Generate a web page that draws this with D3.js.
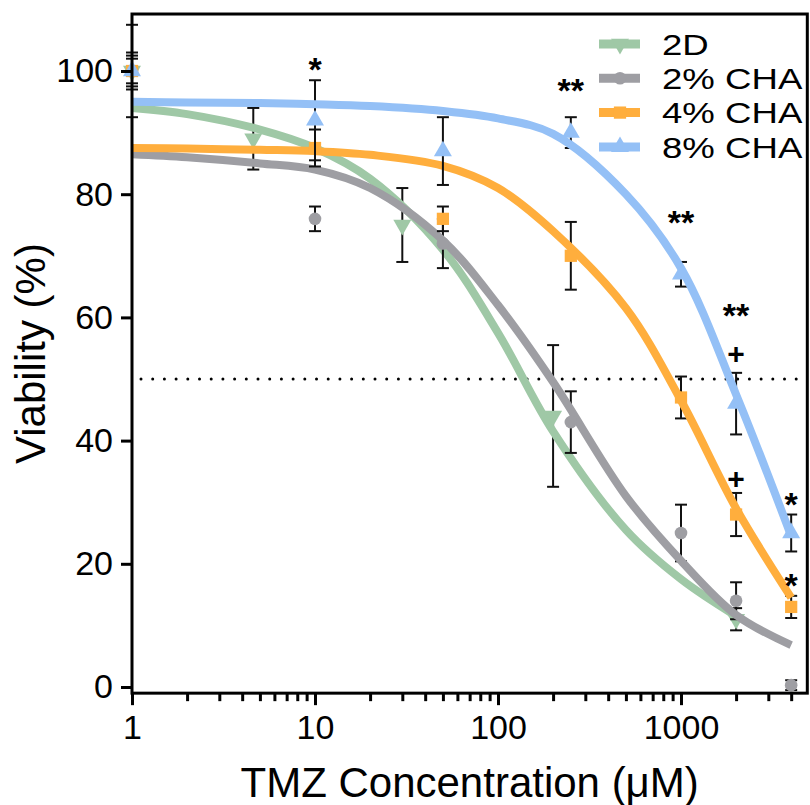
<!DOCTYPE html>
<html>
<head>
<meta charset="utf-8">
<script src="https://cdn.jsdelivr.net/npm/d3@7"></script>
<style>
  body { margin: 0; background: #fff; }
  text { font-family: "Liberation Sans", Arial, Helvetica, sans-serif; fill: #000; }
</style>
</head>
<body>
<svg></svg>
<script>
const width = 810;
const height = 805;

// measured points (TMZ uM, viability %, error)
const conc2D = [1, 4.6, 30, 200, 2000];
const via2D = [100, 89, 75, 44, 11];
const err2D = [3, 5, 6, 11.5, 1.8];

const concCHA = [1, 10, 50, 250, 1000, 2000, 4000];
const via2 = [100, 76, 72, 43, 25, 14, 0.3];
const err2 = [2, 2, 4, 5, 4.6, 3, 0.8];
const via4 = [100, 87.5, 76, 70, 47, 28, 13];
const err4 = [2.5, 3, 2, 5.5, 3.4, 3.5, 1.8];
const via8 = [100, 92, 87, 90, 67, 46, 25];
const err8 = [7.5, 6.5, 5.5, 2.5, 2, 5, 3];

// fitted curves
const fitX = [1, 2, 5, 10, 20, 50, 100, 200, 500, 1000, 2000, 4000];
const fit2D = [94, 93, 90.5, 87.5, 82.5, 71, 57.5, 41.5, 25.5, 17.5, 11.5];
const fit2 = [86.5, 86, 85, 84, 81, 72.5, 62, 49.5, 31, 20.5, 11.7, 6.8];
const fit4 = [87.5, 87.4, 87.2, 87, 86.4, 84.6, 81, 74, 61.5, 46.5, 29, 14.5];
const fit8 = [95, 94.9, 94.8, 94.6, 94.3, 93.5, 92.3, 89.8, 80, 68, 47.5, 24.5];

// significance marks
const sigX = [10, 250, 1000, 2000, 2000, 2000, 4000, 4000];
const sigY = [101.5, 98, 76.6, 61.5, 54.2, 33.9, 30.8, 17.7];
const sigText = ["*", "**", "**", "**", "+", "+", "*", "*"];

const names = ["2D", "2% CHA", "4% CHA", "8% CHA"];
const colors = ["#9fc8a6", "#9e9ea3", "#ffae3d", "#94c0f6"];

const xTicks = [1, 10, 100, 1000];
const yTicks = [0, 20, 40, 60, 80, 100];

const series = [
  { name: names[0], color: colors[0], shape: "down", xs: conc2D, ys: via2D, es: err2D, fit: fit2D },
  { name: names[1], color: colors[1], shape: "circle", xs: concCHA, ys: via2, es: err2, fit: fit2 },
  { name: names[2], color: colors[2], shape: "square", xs: concCHA, ys: via4, es: err4, fit: fit4 },
  { name: names[3], color: colors[3], shape: "up", xs: concCHA, ys: via8, es: err8, fit: fit8 }
];

const x = d3.scaleLog().domain([1, 1000]).range([132, 681]);
const y = d3.scaleLinear().domain([0, 100]).range([687, 71]);
const xMax = 4900, yMin = -1, yMax = 109.25;

const svg = d3.select('svg')
  .attr('width', width)
  .attr('height', height)

function symbolPath(shape) {
  if (shape === "circle") return d3.symbol(d3.symbolCircle, 125)();
  if (shape === "square") return d3.symbol(d3.symbolSquare, 150)();
  return d3.symbol(d3.symbolTriangle, 140)();
}

// 50% reference line
svg.append("line")
  .attr("x1", x(1.12)).attr("x2", x(xMax))
  .attr("y1", y(50)).attr("y2", y(50))
  .attr("stroke", "#000")
  .attr("stroke-width", 3)
  .attr("stroke-linecap", "round")
  .attr("stroke-dasharray", "0 11.7")

const line = d3.line()
  .x(d => x(d[0]))
  .y(d => y(d[1]))
  .curve(d3.curveCatmullRom.alpha(0.5))

series.forEach(s => {
  const g = svg.append("g")
  const pts = s.xs.map((c, i) => ({ c, v: s.ys[i], e: s.es[i] }))

  const eb = g.append("g").attr("stroke", "#111").attr("stroke-width", 2)
  pts.forEach(p => {
    eb.append("line").attr("x1", x(p.c)).attr("x2", x(p.c))
      .attr("y1", y(p.v - p.e)).attr("y2", y(p.v + p.e))
    eb.append("line").attr("x1", x(p.c) - 6).attr("x2", x(p.c) + 6)
      .attr("y1", y(p.v - p.e)).attr("y2", y(p.v - p.e))
    eb.append("line").attr("x1", x(p.c) - 6).attr("x2", x(p.c) + 6)
      .attr("y1", y(p.v + p.e)).attr("y2", y(p.v + p.e))
  })

  g.append("path")
    .datum(s.fit.map((v, i) => [fitX[i], v]))
    .attr("fill", "none")
    .attr("stroke", s.color)
    .attr("stroke-width", 8)
    .attr("d", line)

  g.selectAll(null)
    .data(pts)
    .join("path")
    .attr("d", symbolPath(s.shape))
    .attr("fill", s.color)
    .attr("transform", d => `translate(${x(d.c)},${y(d.v)})` + (s.shape === "down" ? " rotate(180)" : ""))
})

// frame
svg.append("rect")
  .attr("x", x(1)).attr("y", y(yMax))
  .attr("width", x(xMax) - x(1))
  .attr("height", y(yMin) - y(yMax))
  .attr("fill", "none")
  .attr("stroke", "#000")
  .attr("stroke-width", 3)

// axes
const yAxis = svg.append("g")
  .attr("transform", `translate(${x(1)},0)`)
  .call(d3.axisLeft(y).tickValues(yTicks).tickSize(11).tickPadding(8))
yAxis.select(".domain").remove()
yAxis.selectAll("line").attr("stroke-width", 3)
yAxis.selectAll("text").attr("font-size", 34).attr("fill", "#000")

const minor = [];
[1, 10, 100, 1000].forEach(d => { for (let k = 2; k <= 9; k++) if (d * k < xMax) minor.push(d * k) })

const xMinor = svg.append("g")
  .attr("transform", `translate(0,${y(yMin)})`)
  .call(d3.axisBottom(x).tickValues(minor).tickSize(8).tickFormat(""))
xMinor.select(".domain").remove()
xMinor.selectAll("line").attr("stroke-width", 3)

const xAxis = svg.append("g")
  .attr("transform", `translate(0,${y(yMin)})`)
  .call(d3.axisBottom(x).tickValues(xTicks).tickSize(12).tickPadding(10).tickFormat(d3.format("d")))
xAxis.select(".domain").remove()
xAxis.selectAll("line").attr("stroke-width", 3)
xAxis.selectAll("text").attr("font-size", 34).attr("fill", "#000").attr("dy", "0.71em")

svg.append("text")
  .attr("x", (x(1) + x(xMax)) / 2)
  .attr("y", 797)
  .attr("text-anchor", "middle")
  .attr("font-size", 42)
  .text("TMZ Concentration (\u03bcM)")

svg.append("text")
  .attr("transform", `translate(45,${(y(yMin) + y(yMax)) / 2}) rotate(-90)`)
  .attr("text-anchor", "middle")
  .attr("font-size", 42)
  .text("Viability (%)")

// significance marks
sigText.forEach((t, i) => {
  const fs = t === "+" ? 30 : 34
  svg.append("text")
    .attr("x", x(sigX[i]))
    .attr("y", y(sigY[i]) + (t === "+" ? 0.355 : 0.56) * fs)
    .attr("text-anchor", "middle")
    .attr("font-size", fs)
    .attr("font-weight", "bold")
    .text(t)
})

// legend
const legend = svg.append("g")
series.forEach((s, i) => {
  const ly = 44 + i * 34.3
  legend.append("line")
    .attr("x1", 599).attr("x2", 640)
    .attr("y1", ly).attr("y2", ly)
    .attr("stroke", s.color)
    .attr("stroke-width", 9)
  legend.append("path")
    .attr("d", symbolPath(s.shape))
    .attr("fill", s.color)
    .attr("transform", `translate(620,${ly})` + (s.shape === "down" ? " rotate(180)" : ""))
  legend.append("text")
    .attr("transform", `translate(662,${ly}) scale(1.22,1)`)
    .attr("dy", "0.36em")
    .attr("font-size", 30)
    .text(s.name)
})
</script>
</body>
</html>
